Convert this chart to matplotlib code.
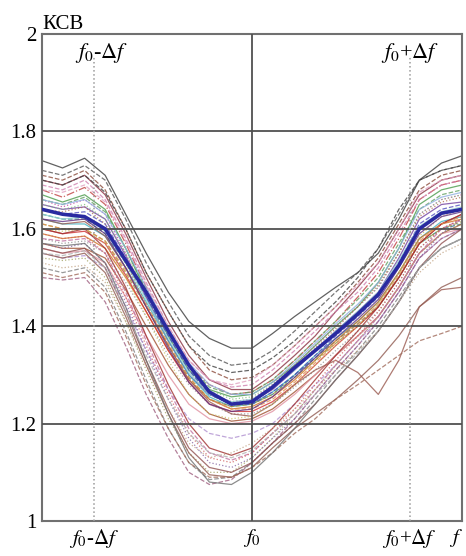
import matplotlib.pyplot as plt

plt.rcParams['font.family'] = ['Liberation Serif', 'DejaVu Serif']
plt.rcParams['mathtext.fontset'] = 'stix'

# частота в долях Δf относительно f0
freq = [-1.33, -1.2, -1.06, -0.93, -0.8, -0.67, -0.53, -0.4, -0.27, -0.13, 0.0,
        0.13, 0.27, 0.4, 0.53, 0.67, 0.8, 0.93, 1.06, 1.2, 1.33]

# КСВ отдельных образцов
vswr = [
    [1.74, 1.725, 1.745, 1.71, 1.63, 1.55, 1.47, 1.41, 1.375, 1.355, 1.355, 1.385, 1.42, 1.45, 1.48, 1.51, 1.55, 1.62, 1.70, 1.735, 1.75],
    [1.72, 1.71, 1.73, 1.70, 1.62, 1.53, 1.45, 1.38, 1.34, 1.32, 1.325, 1.35, 1.39, 1.43, 1.47, 1.51, 1.56, 1.63, 1.70, 1.72, 1.73],
    [1.71, 1.70, 1.72, 1.68, 1.60, 1.51, 1.43, 1.36, 1.31, 1.29, 1.295, 1.32, 1.36, 1.40, 1.44, 1.49, 1.54, 1.61, 1.68, 1.71, 1.72],
    [1.70, 1.69, 1.71, 1.67, 1.59, 1.50, 1.41, 1.34, 1.29, 1.27, 1.27, 1.30, 1.34, 1.38, 1.43, 1.48, 1.53, 1.60, 1.67, 1.70, 1.71],
    [1.68, 1.665, 1.685, 1.65, 1.57, 1.48, 1.39, 1.32, 1.28, 1.26, 1.265, 1.29, 1.33, 1.37, 1.41, 1.46, 1.51, 1.58, 1.66, 1.69, 1.70],
    [1.67, 1.655, 1.67, 1.64, 1.56, 1.47, 1.38, 1.31, 1.27, 1.255, 1.26, 1.285, 1.32, 1.36, 1.40, 1.44, 1.49, 1.56, 1.65, 1.68, 1.69],
    [1.69, 1.68, 1.70, 1.66, 1.58, 1.49, 1.40, 1.33, 1.29, 1.275, 1.28, 1.31, 1.35, 1.39, 1.43, 1.47, 1.52, 1.59, 1.66, 1.69, 1.70],
    [1.66, 1.645, 1.66, 1.63, 1.55, 1.46, 1.37, 1.30, 1.26, 1.245, 1.25, 1.28, 1.32, 1.36, 1.40, 1.44, 1.48, 1.55, 1.63, 1.66, 1.67],
    [1.65, 1.64, 1.645, 1.62, 1.545, 1.46, 1.37, 1.30, 1.26, 1.24, 1.245, 1.27, 1.31, 1.35, 1.39, 1.43, 1.47, 1.54, 1.62, 1.65, 1.655],
    [1.62, 1.61, 1.61, 1.585, 1.52, 1.45, 1.37, 1.30, 1.255, 1.235, 1.24, 1.265, 1.30, 1.34, 1.375, 1.41, 1.45, 1.51, 1.58, 1.615, 1.625],
    [1.63, 1.62, 1.62, 1.59, 1.53, 1.46, 1.38, 1.31, 1.26, 1.24, 1.24, 1.26, 1.30, 1.335, 1.37, 1.405, 1.44, 1.50, 1.57, 1.60, 1.61],
    [1.59, 1.58, 1.585, 1.56, 1.50, 1.43, 1.35, 1.29, 1.25, 1.23, 1.235, 1.255, 1.29, 1.33, 1.37, 1.41, 1.45, 1.51, 1.58, 1.61, 1.62],
    [1.61, 1.60, 1.60, 1.575, 1.51, 1.44, 1.36, 1.295, 1.25, 1.235, 1.24, 1.26, 1.295, 1.33, 1.365, 1.40, 1.44, 1.50, 1.57, 1.60, 1.615],
    [1.65, 1.64, 1.65, 1.62, 1.55, 1.47, 1.38, 1.31, 1.27, 1.25, 1.255, 1.28, 1.32, 1.36, 1.40, 1.44, 1.48, 1.55, 1.63, 1.66, 1.67],
    [1.60, 1.59, 1.595, 1.57, 1.505, 1.43, 1.35, 1.285, 1.24, 1.225, 1.225, 1.245, 1.28, 1.32, 1.36, 1.40, 1.44, 1.50, 1.57, 1.61, 1.63],
    [1.58, 1.57, 1.575, 1.55, 1.49, 1.42, 1.34, 1.28, 1.24, 1.22, 1.22, 1.24, 1.275, 1.31, 1.35, 1.39, 1.43, 1.49, 1.56, 1.60, 1.62],
    [1.57, 1.56, 1.56, 1.54, 1.475, 1.40, 1.32, 1.26, 1.22, 1.205, 1.21, 1.23, 1.265, 1.30, 1.34, 1.38, 1.42, 1.48, 1.55, 1.59, 1.61],
    [1.56, 1.55, 1.555, 1.53, 1.46, 1.38, 1.30, 1.24, 1.21, 1.20, 1.205, 1.225, 1.26, 1.30, 1.34, 1.38, 1.42, 1.48, 1.55, 1.59, 1.60],
    [1.55, 1.54, 1.545, 1.52, 1.44, 1.35, 1.27, 1.21, 1.18, 1.17, 1.18, 1.20, 1.24, 1.28, 1.32, 1.37, 1.41, 1.47, 1.54, 1.58, 1.60],
    [1.50, 1.495, 1.50, 1.45, 1.36, 1.26, 1.17, 1.10, 1.075, 1.085, 1.12, 1.16, 1.21, 1.26, 1.31, 1.36, 1.41, 1.47, 1.54, 1.58, 1.60],
    [1.52, 1.51, 1.52, 1.48, 1.39, 1.29, 1.19, 1.12, 1.085, 1.09, 1.12, 1.16, 1.20, 1.25, 1.30, 1.35, 1.40, 1.46, 1.52, 1.56, 1.58],
    [1.54, 1.535, 1.54, 1.50, 1.41, 1.31, 1.21, 1.14, 1.10, 1.10, 1.13, 1.17, 1.22, 1.27, 1.32, 1.37, 1.42, 1.48, 1.55, 1.59, 1.61],
    [1.56, 1.55, 1.56, 1.52, 1.43, 1.33, 1.23, 1.15, 1.11, 1.10, 1.12, 1.16, 1.20, 1.24, 1.29, 1.34, 1.39, 1.45, 1.52, 1.57, 1.60],
    [1.57, 1.56, 1.57, 1.53, 1.45, 1.35, 1.25, 1.17, 1.12, 1.11, 1.13, 1.17, 1.21, 1.26, 1.31, 1.36, 1.41, 1.47, 1.54, 1.59, 1.62],
    [1.58, 1.575, 1.58, 1.55, 1.47, 1.37, 1.27, 1.19, 1.14, 1.125, 1.14, 1.18, 1.22, 1.27, 1.32, 1.37, 1.42, 1.48, 1.55, 1.60, 1.62],
    [1.60, 1.59, 1.60, 1.56, 1.48, 1.38, 1.28, 1.20, 1.15, 1.135, 1.15, 1.19, 1.24, 1.29, 1.34, 1.39, 1.44, 1.50, 1.57, 1.61, 1.63],
    [1.53, 1.52, 1.525, 1.49, 1.41, 1.32, 1.23, 1.16, 1.13, 1.14, 1.16, 1.19, 1.23, 1.27, 1.31, 1.35, 1.39, 1.45, 1.51, 1.55, 1.57],
    [1.62, 1.61, 1.615, 1.585, 1.52, 1.44, 1.36, 1.29, 1.245, 1.22, 1.215, 1.24, 1.28, 1.31, 1.33, 1.305, 1.26, 1.33, 1.44, 1.475, 1.48],
    [1.55, 1.54, 1.55, 1.51, 1.42, 1.32, 1.22, 1.14, 1.095, 1.09, 1.11, 1.15, 1.19, 1.22, 1.25, 1.29, 1.33, 1.38, 1.44, 1.48, 1.50],
    [1.51, 1.50, 1.51, 1.47, 1.38, 1.28, 1.19, 1.12, 1.09, 1.09, 1.11, 1.14, 1.18, 1.21, 1.25, 1.28, 1.31, 1.34, 1.37, 1.385, 1.40],
    [1.59, 1.58, 1.585, 1.55, 1.46, 1.36, 1.26, 1.18, 1.13, 1.12, 1.14, 1.18, 1.23, 1.28, 1.33, 1.38, 1.43, 1.49, 1.56, 1.60, 1.62],
    [1.57, 1.565, 1.57, 1.53, 1.44, 1.33, 1.22, 1.13, 1.08, 1.075, 1.10, 1.14, 1.19, 1.24, 1.29, 1.34, 1.39, 1.45, 1.52, 1.56, 1.58],
    [1.70, 1.69, 1.71, 1.675, 1.60, 1.51, 1.43, 1.36, 1.32, 1.305, 1.31, 1.335, 1.37, 1.41, 1.45, 1.50, 1.56, 1.64, 1.70, 1.72, 1.73],
    [1.66, 1.65, 1.665, 1.635, 1.56, 1.475, 1.39, 1.32, 1.275, 1.26, 1.265, 1.29, 1.33, 1.37, 1.41, 1.455, 1.50, 1.57, 1.64, 1.67, 1.68],
    [1.64, 1.63, 1.635, 1.61, 1.54, 1.46, 1.38, 1.31, 1.26, 1.24, 1.24, 1.265, 1.30, 1.34, 1.38, 1.42, 1.46, 1.53, 1.61, 1.64, 1.65],
    [1.61, 1.60, 1.60, 1.575, 1.515, 1.445, 1.365, 1.295, 1.25, 1.23, 1.23, 1.25, 1.285, 1.325, 1.365, 1.405, 1.445, 1.505, 1.575, 1.61, 1.625],
    [1.63, 1.62, 1.625, 1.595, 1.53, 1.455, 1.375, 1.305, 1.26, 1.245, 1.25, 1.275, 1.31, 1.35, 1.39, 1.43, 1.47, 1.535, 1.605, 1.635, 1.645],
    [1.66, 1.65, 1.66, 1.63, 1.56, 1.48, 1.395, 1.325, 1.28, 1.26, 1.26, 1.285, 1.325, 1.365, 1.405, 1.445, 1.49, 1.56, 1.64, 1.665, 1.675],
    [1.60, 1.595, 1.60, 1.57, 1.50, 1.42, 1.33, 1.26, 1.22, 1.21, 1.215, 1.24, 1.28, 1.32, 1.36, 1.40, 1.445, 1.51, 1.585, 1.625, 1.64],
    [1.68, 1.675, 1.69, 1.655, 1.575, 1.485, 1.40, 1.33, 1.29, 1.28, 1.29, 1.32, 1.36, 1.40, 1.44, 1.485, 1.53, 1.60, 1.675, 1.70, 1.71],
    [1.62, 1.615, 1.62, 1.59, 1.52, 1.44, 1.355, 1.285, 1.24, 1.225, 1.23, 1.255, 1.295, 1.335, 1.375, 1.415, 1.455, 1.52, 1.59, 1.625, 1.635],
    [1.55, 1.545, 1.555, 1.52, 1.43, 1.34, 1.25, 1.18, 1.14, 1.13, 1.145, 1.18, 1.22, 1.26, 1.30, 1.345, 1.39, 1.45, 1.52, 1.56, 1.58],
    [1.64, 1.635, 1.645, 1.61, 1.53, 1.445, 1.36, 1.29, 1.25, 1.235, 1.245, 1.275, 1.315, 1.355, 1.395, 1.44, 1.485, 1.55, 1.625, 1.655, 1.665],
]

colors = ['#3a3a3a', '#555555', '#8b4a3a', '#8a3040', '#c04040', '#4a9a4a', '#d080b0', '#c040a0',
          '#7040a0', '#40b0c0', '#308080', '#d07020', '#9a9a40', '#80c080', '#d03030', '#909090',
          '#a05030', '#e090a0', '#b090d0', '#a06080', '#808080', '#a0a060', '#905050', '#8060a0',
          '#c070a0', '#a03030', '#c0a080', '#9a5a50', '#905a50', '#a06a5a', '#d06060', '#707070',
          '#404040', '#60a060', '#5050c0', '#e09050', '#90d0d0', '#8fb0e0', '#c8c060', '#e0a0c0',
          '#603080', '#b0b0b0', '#b07050']

styles = ['-', '--', '--', '-', '-.', '-', '--', ':', '-', '-', '--', '-', '--', ':', '-', ':',
          '-', '-', '--', '--', '--', ':', '-', ':', '--', '-', ':', '-', '-', '--', ':', '-',
          '--', '--', '--', '--', '-', '-', ':', '--', '-', '--', ':']

# среднее значение
vswr_mean = [1.64, 1.63, 1.625, 1.60, 1.535, 1.47, 1.39, 1.32, 1.265, 1.24, 1.245, 1.275, 1.315,
             1.35, 1.385, 1.425, 1.465, 1.525, 1.60, 1.632, 1.64]

fig = plt.figure(figsize=(4.66, 5.56), dpi=100)
ax = fig.add_axes([0.0901, 0.0629, 0.9013, 0.8759])

for vals, c, ls in zip(vswr, colors, styles):
    ax.plot(freq, vals, color=c, ls=ls, lw=0.9, alpha=0.8, zorder=2)
ax.plot(freq, vswr_mean, color='#2a2aa0', lw=2.6, zorder=4)

# сетка
for yv in [1.2, 1.4, 1.6, 1.8]:
    ax.axhline(yv, color='#505050', lw=1.3, zorder=3)
ax.axvline(0, color='#505050', lw=1.3, zorder=3)
for xv in [-1, 1]:
    ax.plot([xv, xv], [1, 1.955], color='#9a9a9a', ls=':', lw=1.1, zorder=3)

ax.set_xlim(-1.33, 1.33)
ax.set_ylim(1, 2)
ax.set_yticks([1, 1.2, 1.4, 1.6, 1.8, 2])
ax.set_yticklabels(['1', '1.2', '1.4', '1.6', '1.8', '2'], fontsize=15)
ax.set_xticks([-1, 0, 1, 1.29])
ax.set_xticklabels([r'$f_0$-$\Delta f$', r'$f_0$', r'$f_0$+$\Delta f$', r'$f$'], fontsize=15)
ax.tick_params(length=0, pad=4)
for s in ax.spines.values():
    s.set_color('#707070')
    s.set_linewidth(1.5)

ax.text(-0.955, 1.962, r'$f_0$-$\Delta f$', fontsize=16, ha='center', va='center')
ax.text(1.0, 1.962, r'$f_0$+$\Delta f$', fontsize=16, ha='center', va='center')
ax.text(0.0, 1.011, 'КСВ', transform=ax.transAxes, fontsize=15, ha='left', va='baseline')

fig.savefig('out.png', dpi=100)
